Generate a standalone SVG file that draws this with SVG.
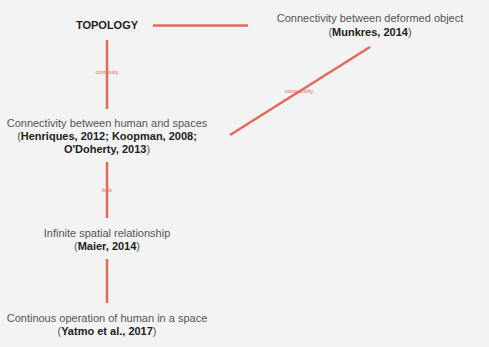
<svg xmlns="http://www.w3.org/2000/svg" width="489" height="347" viewBox="0 0 489 347">
<style>
.t{font-family:"Liberation Sans",Arial,sans-serif;font-size:11px;fill:#555;text-anchor:middle}
.b{font-weight:bold;fill:#222}
.c{stroke:#e4685a;stroke-width:2.5;fill:none}
.l{font-family:"Liberation Sans",Arial,sans-serif;font-size:5.5px;fill:#e4685a;text-anchor:middle}
</style>
<rect width="489" height="347" fill="#f3f3f3"/>
<g id="connectors">
<line class="c" x1="153" y1="25.5" x2="248" y2="25.5"/>
<line class="c" x1="107" y1="40" x2="107" y2="109"/>
<text class="l" x="107" y="74">continuity</text>
<line class="c" x1="230" y1="135" x2="370" y2="47"/>
<text class="l" x="299" y="93">connectivity</text>
<line class="c" x1="107" y1="162" x2="107" y2="218"/>
<text class="l" x="107" y="192">limit</text>
<line class="c" x1="107" y1="259" x2="107" y2="303"/>
</g>
<g id="topology"><text class="t b" x="107" y="29" font-size="12">TOPOLOGY</text></g>
<g id="deformed">
<text class="t" x="370" y="22">Connectivity between deformed object</text>
<text class="t" x="370" y="36"><tspan>(</tspan><tspan class="b">Munkres, 2014</tspan><tspan>)</tspan></text>
</g>
<g id="human">
<text class="t" x="107" y="127">Connectivity between human and spaces</text>
<text class="t" x="107" y="140"><tspan>(</tspan><tspan class="b">Henriques, 2012; Koopman, 2008;</tspan></text>
<text class="t" x="107" y="153"><tspan class="b">O'Doherty, 2013</tspan><tspan>)</tspan></text>
</g>
<g id="infinite">
<text class="t" x="107" y="237">Infinite spatial relationship</text>
<text class="t" x="107" y="250"><tspan>(</tspan><tspan class="b">Maier, 2014</tspan><tspan>)</tspan></text>
</g>
<g id="continous">
<text class="t" x="107" y="322">Continous operation of human in a space</text>
<text class="t" x="107" y="335"><tspan>(</tspan><tspan class="b">Yatmo et al., 2017</tspan><tspan>)</tspan></text>
</g>
</svg>
